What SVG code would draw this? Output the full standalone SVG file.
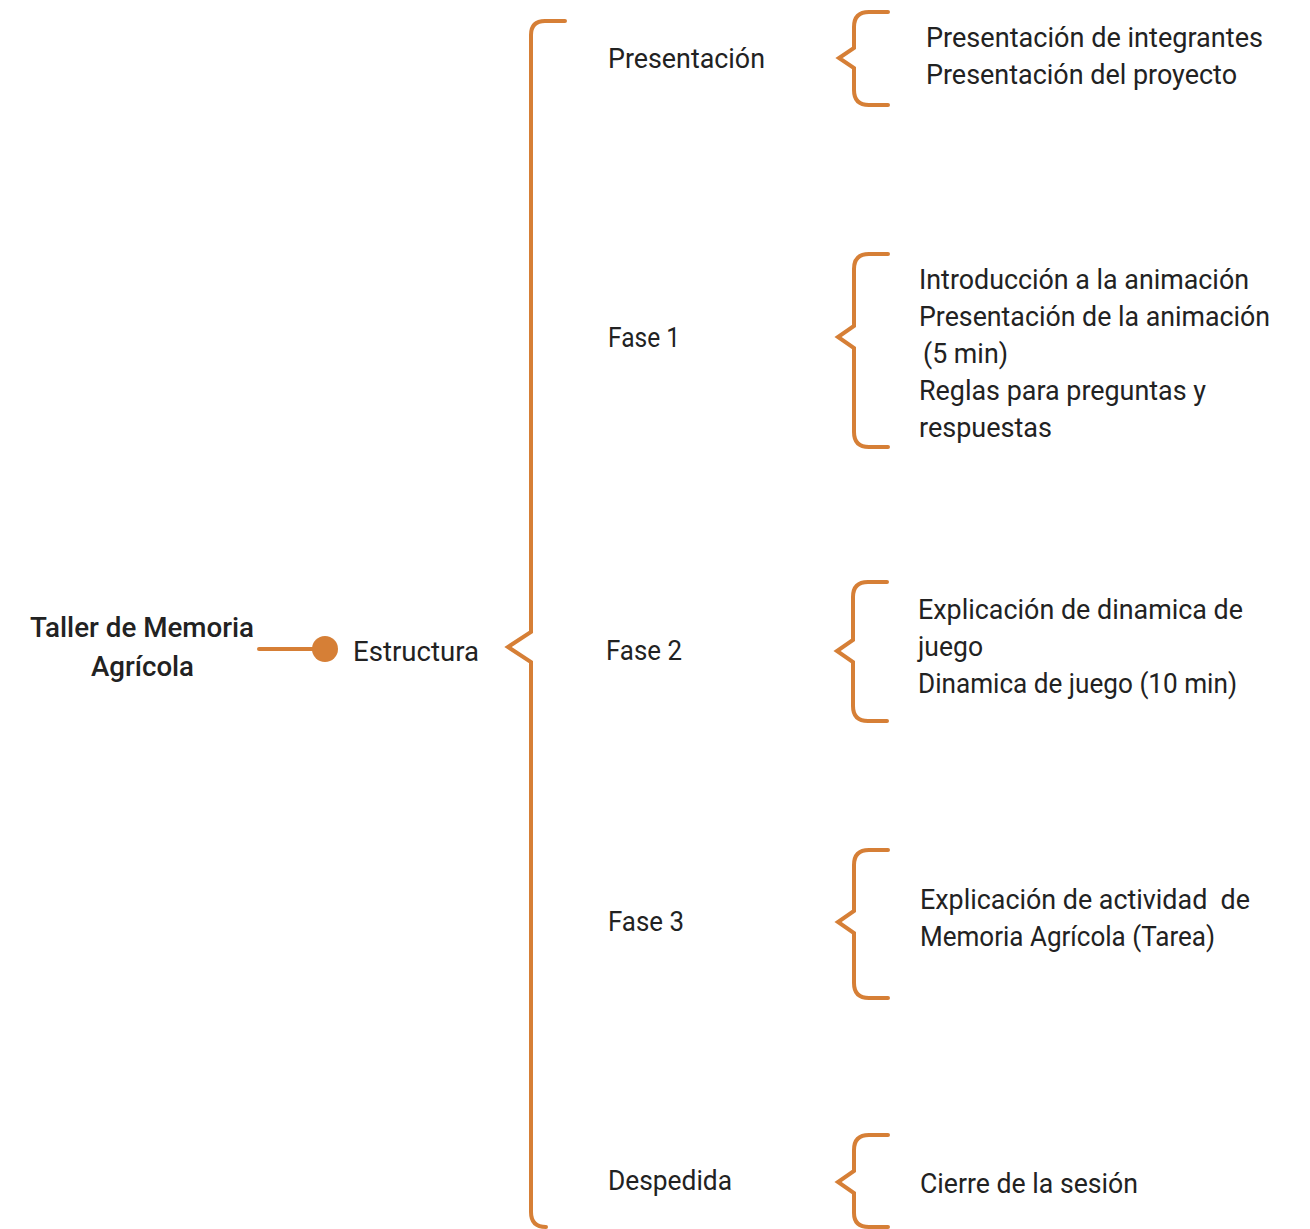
<svg xmlns="http://www.w3.org/2000/svg" width="1310" height="1229" viewBox="0 0 1310 1229">
<style>
.t{font-family:Roboto,"Liberation Sans",sans-serif;font-size:27px;fill:#222;}
.b{font-weight:500;font-size:28px;}
.br{fill:none;stroke:#D67F36;stroke-width:4;stroke-linecap:round;stroke-linejoin:miter;}
</style>
<rect width="1310" height="1229" fill="#fff"/>
<g id="connectors">
<line x1="259" y1="649" x2="322" y2="649" stroke="#D67F36" stroke-width="4" stroke-linecap="round"/>
<circle cx="325" cy="649" r="13" fill="#D67F36"/>
<path class="br" d="M565,21 H545 Q531,21 531,35 V632 L508,647 L531,662 V1212 Q531,1227 546,1227"/>
<path class="br" d="M888,12 H869 Q854,12 854,27 V48 L839,58 L854,68 V90 Q854,105 869,105 H888"/>
<path class="br" d="M888,254 H869 Q854,254 854,269 V326 L838,337 L854,348 V432 Q854,447 869,447 H888"/>
<path class="br" d="M887,582 H868 Q853,582 853,597 V640 L837,651 L853,662 V706 Q853,721 868,721 H887"/>
<path class="br" d="M888,850 H869 Q854,850 854,865 V911 L838,922 L854,933 V983 Q854,998 869,998 H888"/>
<path class="br" d="M888,1135 H869 Q854,1135 854,1150 V1171 L838,1182 L854,1193 V1213 Q854,1227 869,1227 H888"/>
</g>
<g id="root">
<text class="t b" x="30" y="637" textLength="224" lengthAdjust="spacingAndGlyphs">Taller de Memoria</text>
<text class="t b" x="91" y="676" textLength="103" lengthAdjust="spacingAndGlyphs">Agrícola</text>
</g>
<g id="estructura">
<text class="t" x="353" y="661" textLength="126" lengthAdjust="spacingAndGlyphs">Estructura</text>
</g>
<g id="presentacion">
<text class="t" x="608" y="68" textLength="157" lengthAdjust="spacingAndGlyphs">Presentación</text>
</g>
<g id="fase1">
<text class="t" x="608" y="347" textLength="72" lengthAdjust="spacingAndGlyphs">Fase 1</text>
</g>
<g id="fase2">
<text class="t" x="606" y="660" textLength="76" lengthAdjust="spacingAndGlyphs">Fase 2</text>
</g>
<g id="fase3">
<text class="t" x="608" y="931" textLength="76" lengthAdjust="spacingAndGlyphs">Fase 3</text>
</g>
<g id="despedida">
<text class="t" x="608" y="1190" textLength="124" lengthAdjust="spacingAndGlyphs">Despedida</text>
</g>
<g id="presentacion-items">
<text class="t" x="926" y="47" textLength="337" lengthAdjust="spacingAndGlyphs">Presentación de integrantes</text>
<text class="t" x="926" y="84" textLength="311" lengthAdjust="spacingAndGlyphs">Presentación del proyecto</text>
</g>
<g id="fase1-items">
<text class="t" x="919" y="289" textLength="330" lengthAdjust="spacingAndGlyphs">Introducción a la animación</text>
<text class="t" x="919" y="326" textLength="351" lengthAdjust="spacingAndGlyphs">Presentación de la animación</text>
<text class="t" x="923" y="363" textLength="85" lengthAdjust="spacingAndGlyphs">(5 min)</text>
<text class="t" x="919" y="400" textLength="287" lengthAdjust="spacingAndGlyphs">Reglas para preguntas y</text>
<text class="t" x="919" y="437" textLength="133" lengthAdjust="spacingAndGlyphs">respuestas</text>
</g>
<g id="fase2-items">
<text class="t" x="918" y="619" textLength="325" lengthAdjust="spacingAndGlyphs">Explicación de dinamica de</text>
<text class="t" x="918" y="656" textLength="65" lengthAdjust="spacingAndGlyphs">juego</text>
<text class="t" x="918" y="693" textLength="319" lengthAdjust="spacingAndGlyphs">Dinamica de juego (10 min)</text>
</g>
<g id="fase3-items">
<text class="t" x="920" y="909" textLength="330" lengthAdjust="spacingAndGlyphs" xml:space="preserve">Explicación de actividad  de</text>
<text class="t" x="920" y="946" textLength="295" lengthAdjust="spacingAndGlyphs">Memoria Agrícola (Tarea)</text>
</g>
<g id="despedida-items">
<text class="t" x="920" y="1193" textLength="218" lengthAdjust="spacingAndGlyphs">Cierre de la sesión</text>
</g>
</svg>
